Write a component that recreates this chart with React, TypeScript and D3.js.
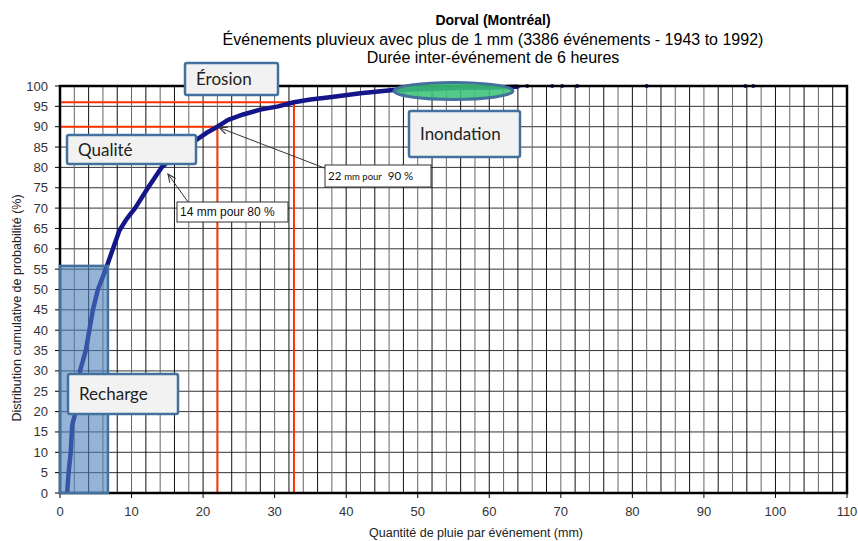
import React from "react";
import * as d3 from "d3";

// cumulative distribution (mm, %)
const curveMm = [1.0, 1.2, 1.5, 1.7, 2.2, 2.6, 2.8, 3.6, 4.1, 4.6, 5.3, 6.4, 7.4, 8.3, 9.3, 10.5, 12.3, 14.2, 16.0, 17.5, 19.0, 20.5, 22.0, 23.5, 25.6, 28.0, 30.5, 32.7, 35.0, 38.0, 42.0, 46.6, 50.0, 53.0, 56.0, 59.0, 62.0, 64.0];
const curvePct = [0, 5, 10, 16.7, 20, 25, 30, 35, 40, 45, 50, 55, 60, 64.5, 67.3, 70, 75, 80, 82.8, 85, 86.7, 88.5, 90, 91.7, 93, 94.2, 95, 96, 96.7, 97.3, 98.2, 99, 99.2, 99.4, 99.5, 99.6, 99.7, 99.8];
const tailMm = [65.3, 68.8, 70.2, 72.3, 82.0, 95.8, 96.9];
const tailPct = [100, 100, 100, 100, 100, 100, 100];

const xTicks = [0, 10, 20, 30, 40, 50, 60, 70, 80, 90, 100, 110];
const yTicks = [0, 5, 10, 15, 20, 25, 30, 35, 40, 45, 50, 55, 60, 65, 70, 75, 80, 85, 90, 95, 100];

const marker90 = { mm: 22, pct: 90 };
const marker96 = { mm: 32.7, pct: 96 };

const W = 858;
const H = 541;
const left = 60;
const right = 847;
const top = 86;
const bottom = 493;

const x = d3.scaleLinear().domain([0, 110]).range([left, right]);
const y = d3.scaleLinear().domain([0, 100]).range([bottom, top]);

const arial = "'Liberation Sans', Arial, sans-serif";
const calibri = "Lato, 'Open Sans', sans-serif";

function Callout({ x0, y0, w, h, label }: { x0: number; y0: number; w: number; h: number; label: string }) {
  return (
    <g>
      <rect x={x0} y={y0} width={w} height={h} fill="#f2f2f2" stroke="#41719c" strokeWidth={2.5} rx={2} />
      <text x={x0 + 11} y={y0 + h / 2 + 6} fontFamily={calibri} fontSize={17} fill="#222">
        {label}
      </text>
    </g>
  );
}

export default function App() {
  document.body.style.margin = "0";
  const pts = curveMm.map((m, i) => [x(m), y(curvePct[i])] as [number, number]);
  const tail = [[x(64), y(99.8)] as [number, number]].concat(
    tailMm.map((m, i) => [x(m), y(tailPct[i])] as [number, number])
  );
  const line = d3.line();
  const vGrid = d3.range(0, 111, 2);

  return (
    <svg width={W} height={H} style={{ display: "block" }}>
      <defs>
        <marker id="arr" viewBox="0 0 10 10" refX="9" refY="5" markerWidth="9" markerHeight="9" orient="auto">
          <path d="M0,1 L9,5 L0,9" fill="none" stroke="#333" strokeWidth={1.2} />
        </marker>
      </defs>
      <rect width={W} height={H} fill="#fff" />

      {/* titles */}
      <text x={493} y={25} textAnchor="middle" fontFamily={arial} fontWeight="bold" fontSize={14}>
        Dorval (Montréal)
      </text>
      <text x={493} y={45} textAnchor="middle" fontFamily={arial} fontSize={16}>
        Événements pluvieux avec plus de 1 mm (3386 événements - 1943 to 1992)
      </text>
      <text x={493} y={63} textAnchor="middle" fontFamily={arial} fontSize={16}>
        Durée inter-événement de 6 heures
      </text>

      {/* grid */}
      {yTicks.map((t) => (
        <line key={"h" + t} x1={left} x2={right} y1={y(t)} y2={y(t)} stroke="#333" strokeWidth={1} />
      ))}
      {vGrid.map((t, i) => (
        <line key={"v" + t} x1={x(t)} x2={x(t)} y1={top} y2={bottom} stroke={i % 2 === 0 ? "#111" : "#666"} strokeWidth={1} />
      ))}

      {/* red reference lines */}
      <polyline
        points={`${x(0)},${y(marker90.pct)} ${x(marker90.mm)},${y(marker90.pct)} ${x(marker90.mm)},${y(0)}`}
        fill="none" stroke="#ff3300" strokeWidth={2}
      />
      <polyline
        points={`${x(0)},${y(marker96.pct)} ${x(marker96.mm)},${y(marker96.pct)} ${x(marker96.mm)},${y(0)}`}
        fill="none" stroke="#ff3300" strokeWidth={2}
      />

      {/* curve */}
      <path d={line(tail) || ""} fill="none" stroke="#1a1a8c" strokeWidth={1.5} />
      {tail.map((p, i) => (
        <circle key={"t" + i} cx={p[0]} cy={p[1]} r={2} fill="#1a1a8c" />
      ))}
      <path d={line(pts) || ""} fill="none" stroke="#15158a" strokeWidth={4.5} strokeLinejoin="round" />

      {/* frame */}
      <rect x={left} y={top} width={right - left} height={bottom - top} fill="none" stroke="#000" strokeWidth={2.5} />
      {yTicks.map((t) => (
        <g key={"yt" + t}>
          <line x1={left - 5} x2={left} y1={y(t)} y2={y(t)} stroke="#000" />
          <text x={48} y={y(t) + 4.5} textAnchor="end" fontFamily={arial} fontSize={13} fill="#333">
            {t}
          </text>
        </g>
      ))}
      {xTicks.map((t) => (
        <g key={"xt" + t}>
          <line x1={x(t)} x2={x(t)} y1={bottom} y2={bottom + 5} stroke="#000" />
          <text x={x(t)} y={516} textAnchor="middle" fontFamily={arial} fontSize={13} fill="#333">
            {t}
          </text>
        </g>
      ))}
      <text x={369} y={537} fontFamily={arial} fontSize={12.5} fill="#222">
        Quantité de pluie par événement (mm)
      </text>
      <text transform={`translate(21, ${308}) rotate(-90)`} textAnchor="middle" fontFamily={arial} fontSize={12.5} fill="#222">
        Distribution cumulative de probabilité (%)
      </text>

      {/* highlighted zones */}
      <rect x={x(0)} y={y(55.8)} width={x(6.7) - x(0)} height={y(0) - y(55.8)} fill="#4f81bd" fillOpacity={0.6} stroke="#41719c" strokeWidth={2.5} />
      <ellipse cx={x(55)} cy={y(98.8)} rx={x(63.3) - x(55)} ry={8.5} fill="#3cc377" fillOpacity={0.88} stroke="#41719c" strokeWidth={3} />

      <Callout x0={185} y0={63} w={93} h={32} label="Érosion" />
      <Callout x0={67} y0={135} w={129} h={29} label="Qualité" />
      <Callout x0={409} y0={111} w={111} h={46} label="Inondation" />
      <Callout x0={68} y0={374} w={110} h={40} label="Recharge" />

      {/* small annotations */}
      <line x1={327} y1={169} x2={x(marker90.mm) + 2} y2={y(marker90.pct) + 1} stroke="#333" strokeWidth={1} markerEnd="url(#arr)" />
      <rect x={325} y={165} width={106} height={22} fill="#fff" stroke="#333" strokeWidth={1} />
      <text x={328} y={180} fontFamily={calibri} fontSize={11.5} fill="#111" style={{ whiteSpace: "pre" }}>
        {"22 "}<tspan fontSize={9.5}>mm pour</tspan>{"  90 %"}
      </text>
      <line x1={188} y1={202} x2={168} y2={174} stroke="#333" strokeWidth={1} markerEnd="url(#arr)" />
      <rect x={177} y={202} width={111} height={20} fill="#fff" stroke="#333" strokeWidth={1} />
      <text x={180} y={216} fontFamily={arial} fontSize={12} fill="#111">
        14 mm pour 80 %
      </text>
    </svg>
  );
}
